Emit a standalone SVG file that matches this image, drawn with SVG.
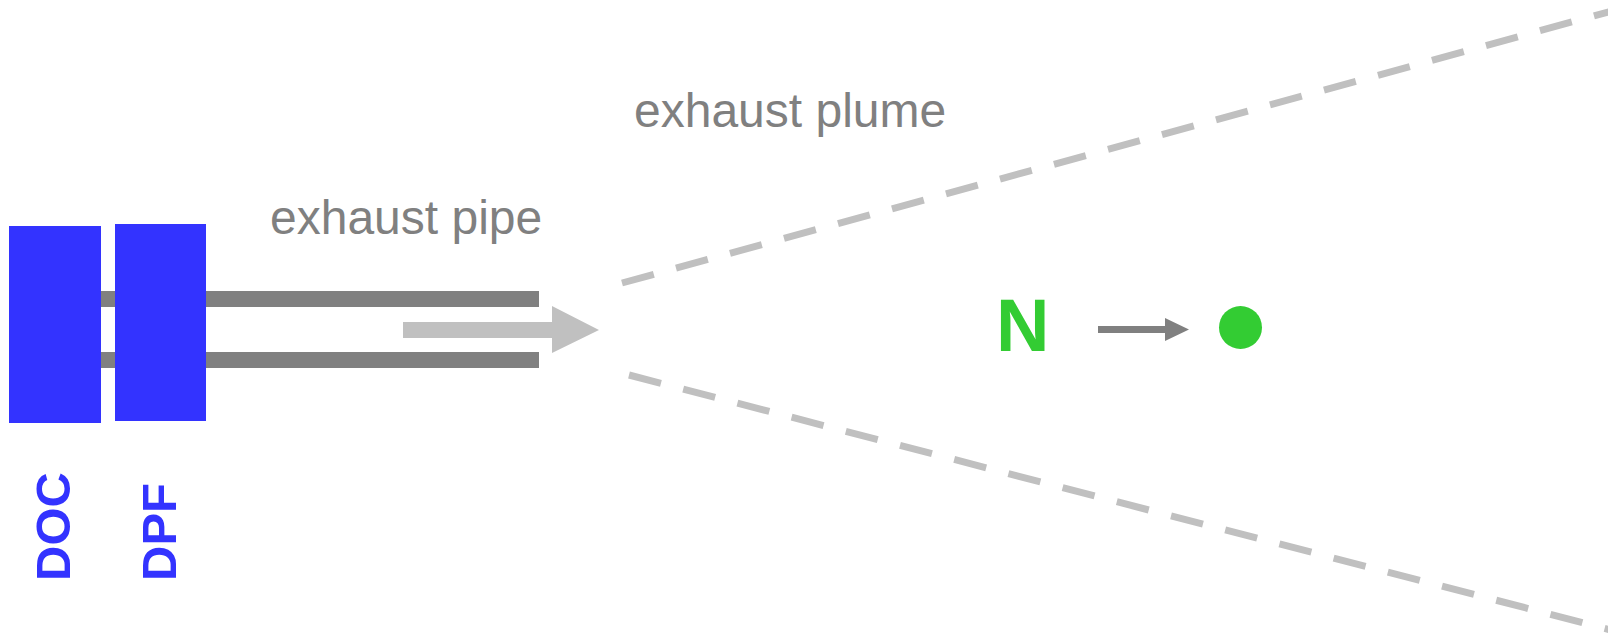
<svg xmlns="http://www.w3.org/2000/svg" width="1608" height="638" viewBox="0 0 1608 638">
<style>
.lbl{font-family:"Liberation Sans",Arial,sans-serif;font-size:48px;fill:#808080}
.blk{font-family:"Liberation Sans",Arial,sans-serif;font-weight:bold;font-size:49px;fill:#3333ff}
.pipe{fill:#808080}
.plume{stroke:#c0c0c0;stroke-width:7;stroke-dasharray:33 23;fill:none}
</style>
<rect width="1608" height="638" fill="#ffffff"/>
<g id="connectors">
<rect class="pipe" x="60" y="291" width="479" height="16"/>
<rect class="pipe" x="60" y="352" width="479" height="16"/>
<polygon fill="#c0c0c0" points="403,322 552,322 552,306 599,330 552,353 552,338 403,338"/>
<line class="plume" x1="622" y1="283" x2="1630" y2="6"/>
<line class="plume" x1="629" y1="375" x2="1630" y2="635"/>
<polygon fill="#808080" points="1098,326 1165,326 1165,318 1189,329.5 1165,341 1165,333 1098,333"/>
</g>
<g id="doc">
<rect x="9" y="226" width="92" height="197" fill="#3333ff"/>
<text class="blk" transform="translate(70,581) rotate(-90)">DOC</text>
</g>
<g id="dpf">
<rect x="115" y="224" width="91" height="197" fill="#3333ff"/>
<text class="blk" transform="translate(176,581) rotate(-90)">DPF</text>
</g>
<g id="pipe-label"><text class="lbl" x="270" y="234">exhaust pipe</text></g>
<g id="plume-label"><text class="lbl" x="634" y="127">exhaust plume</text></g>
<g id="n"><text x="996" y="351" font-family="Liberation Sans,Arial,sans-serif" font-weight="bold" font-size="74" fill="#33cc33">N</text></g>
<g id="particle"><circle cx="1240.5" cy="327.5" r="21.5" fill="#33cc33"/></g>
</svg>
